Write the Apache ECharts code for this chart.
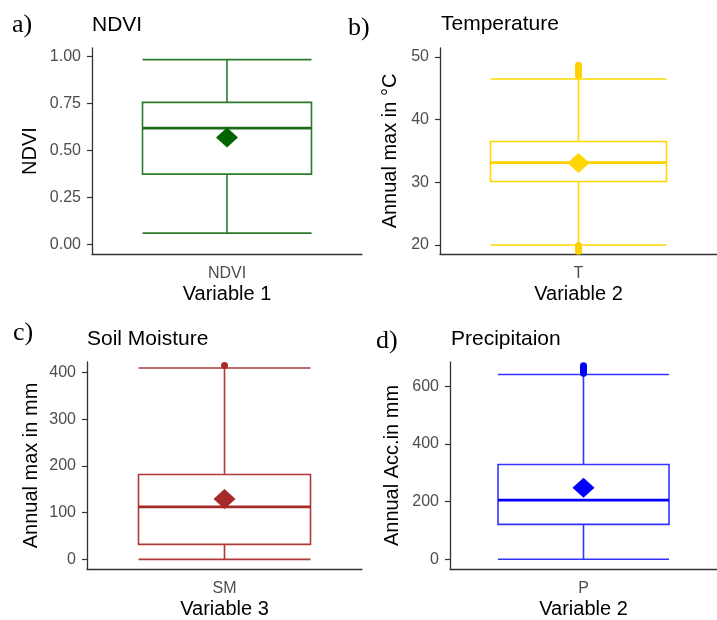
<!DOCTYPE html>
<html>
<head>
<meta charset="utf-8">
<script src="https://cdn.jsdelivr.net/npm/echarts@6/dist/echarts.min.js"></script>
<style>
  html, body { margin: 0; padding: 0; background: #fff; }
  #chart { width: 717px; height: 620px; }
</style>
</head>
<body>
<div id="chart"></div>
<script>
// one category per panel
var categories = ["NDVI", "T", "SM", "P"];
var panelTitles = ["NDVI", "Temperature", "Soil Moisture", "Precipitaion"];
var panelLetters = ["a)", "b)", "c)", "d)"];
var yNames = ["NDVI", "Annual max in \u00B0C", "Annual max in mm", "Annual Acc.in mm"];
var xNames = ["Variable 1", "Variable 2", "Variable 3", "Variable 2"];

// [lower whisker, Q1, median, Q3, upper whisker]
var statsNDVI = [0.059, 0.374, 0.619, 0.756, 0.984];
var statsT = [20.0, 30.13, 33.16, 36.52, 46.49];
var statsSM = [0, 32.1, 112.5, 181.8, 409.8];
var statsP = [0, 121.2, 205.3, 328.8, 640.5];

var means = [0.569, 33.07, 129, 247.8];

var outliersNDVI = [];
var outliersT = [19.0, 19.3, 19.6, 19.9, 47.0, 47.4, 47.8, 48.2, 48.7];
var outliersSM = [415];
var outliersP = [645, 652, 658, 664, 671];

// y tick values
var ticksNDVI = [0, 0.25, 0.5, 0.75, 1];
var ticksT = [20, 30, 40, 50];
var ticksSM = [0, 100, 200, 300, 400];
var ticksP = [0, 200, 400, 600];

var stats = [statsNDVI, statsT, statsSM, statsP];
var outliers = [outliersNDVI, outliersT, outliersSM, outliersP];
var ticks = [ticksNDVI, ticksT, ticksSM, ticksP];
var yRanges = [[-0.052, 1.046], [18.56, 51.44], [-20.7, 422.7], [-33.6, 683.8]];

var boxColors = ["#2a7b2a", "#ffd700", "#b03a3a", "#3333ff"];
var medianColors = ["#1b6b1b", "#ffd000", "#a52a2a", "#0000ff"];
var meanColors = ["#006400", "#ffd700", "#a52a2a", "#0000ff"];

var grids = [
  { left: 92, top: 48, width: 270, height: 206 },
  { left: 440, top: 48, width: 282, height: 206 },
  { left: 87, top: 362, width: 275, height: 207 },
  { left: 450, top: 362, width: 273, height: 207 }
];
var boxShare = 0.625; // ggplot width 0.75 over a 1.2 wide discrete range
var yNameGaps = [52, 40, 46, 48];
var titlePos = [[92, 15], [441, 14], [87, 329], [451, 329]];
var letterPos = [[12, 12], [348, 15], [13, 320], [376, 328]];

var sans = "Liberation Sans";
var axisColor = "#333";
var labelColor = "#4d4d4d";

var chart = echarts.init(document.getElementById("chart"), null, { renderer: "canvas" });

var option = {
  animation: false,
  backgroundColor: "#fff",
  title: [],
  grid: [],
  xAxis: [],
  yAxis: [],
  series: []
};

for (var i = 0; i < 4; i++) {
  option.title.push({
    text: panelTitles[i],
    left: titlePos[i][0],
    top: titlePos[i][1],
    padding: 0,
    textStyle: { fontFamily: sans, fontSize: 21, fontWeight: "normal", color: "#000" }
  });
  option.title.push({
    text: panelLetters[i],
    left: letterPos[i][0],
    top: letterPos[i][1],
    padding: 0,
    textStyle: { fontFamily: "Liberation Serif", fontSize: 26, fontWeight: "normal", color: "#000" }
  });

  option.grid.push(grids[i]);

  option.xAxis.push({
    type: "category",
    gridIndex: i,
    data: [categories[i]],
    name: xNames[i],
    nameLocation: "middle",
    nameGap: 30,
    nameTextStyle: { fontFamily: sans, fontSize: 20, color: "#000" },
    axisLine: { onZero: false, lineStyle: { color: axisColor, width: 1.3 } },
    axisTick: { alignWithLabel: true, length: 5, lineStyle: { color: axisColor, width: 1.2 } },
    axisLabel: { fontFamily: sans, fontSize: 16, color: labelColor, margin: 12 },
    splitLine: { show: false }
  });

  var dec = i === 0 ? 2 : 0;
  option.yAxis.push({
    type: "value",
    gridIndex: i,
    min: yRanges[i][0],
    max: yRanges[i][1],
    name: yNames[i],
    nameLocation: "middle",
    nameRotate: 90,
    nameGap: yNameGaps[i],
    nameTextStyle: { fontFamily: sans, fontSize: 20, color: "#000" },
    axisLine: { show: true, onZero: false, lineStyle: { color: axisColor, width: 1.3 } },
    axisTick: { show: true, length: 5, customValues: ticks[i], lineStyle: { color: axisColor, width: 1.2 } },
    axisLabel: {
      fontFamily: sans, fontSize: 16, color: labelColor, margin: 11,
      customValues: ticks[i],
      formatter: (function (d) { return function (v) { return v.toFixed(d); }; })(dec)
    },
    splitLine: { show: false }
  });

  var boxPx = Math.round(grids[i].width * boxShare);
  // box and whiskers
  option.series.push({
    type: "boxplot",
    xAxisIndex: i,
    yAxisIndex: i,
    boxWidth: [boxPx, boxPx],
    itemStyle: { color: "rgba(255,255,255,0)", borderColor: boxColors[i], borderWidth: 1.6 },
    data: [stats[i]],
    z: 2
  });
  // thicker median line on top
  option.series.push({
    type: "scatter",
    xAxisIndex: i,
    yAxisIndex: i,
    symbol: "rect",
    symbolSize: [boxPx, 2.8],
    itemStyle: { color: medianColors[i], opacity: 1 },
    data: [[0, stats[i][2]]],
    z: 3
  });
  // outliers
  option.series.push({
    type: "scatter",
    xAxisIndex: i,
    yAxisIndex: i,
    symbol: "circle",
    symbolSize: 7,
    itemStyle: { color: medianColors[i], opacity: 1 },
    data: outliers[i].map(function (v) { return [0, v]; }),
    z: 4
  });
  // mean
  option.series.push({
    type: "scatter",
    xAxisIndex: i,
    yAxisIndex: i,
    symbol: "diamond",
    symbolSize: [22, 20],
    itemStyle: { color: meanColors[i], opacity: 1 },
    data: [[0, means[i]]],
    z: 5
  });
}

chart.setOption(option);
</script>
</body>
</html>
